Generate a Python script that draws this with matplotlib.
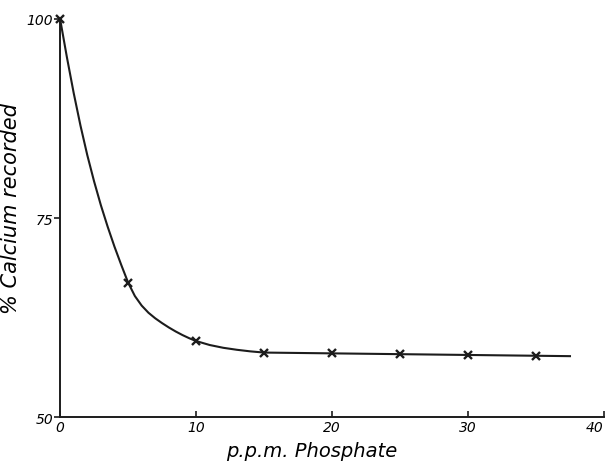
import matplotlib
matplotlib.use("Agg")
import matplotlib.pyplot as plt

# measured points (x marks)
phosphate_ppm = [0, 5, 10, 15, 20, 25, 30, 35]
calcium_pct = [100, 66.9, 59.5, 58.1, 58.0, 57.9, 57.8, 57.7]

# hand-drawn curve
curve_x = [0, 0.5, 1, 1.5, 2, 2.5, 3, 3.5, 4, 4.5, 5, 5.5, 6, 6.5, 7, 7.5, 8, 8.5, 9, 9.5, 10,
           11, 12, 13, 14, 15, 20, 25, 30, 35, 37.5]
curve_y = [100, 95.2, 90.7, 86.6, 82.9, 79.6, 76.6, 73.9, 71.4, 69.1, 66.9, 65.2, 64.0, 63.1, 62.4,
           61.8, 61.25, 60.75, 60.3, 59.9, 59.55, 59.05, 58.7, 58.45, 58.25, 58.1, 58.0, 57.9, 57.8,
           57.7, 57.65]

x_ticks = [0, 10, 20, 30, 40]
y_ticks = [50, 75, 100]

plt.rcParams['font.family'] = ['DejaVu Sans']
ink = '#1c1c1c'

fig = plt.figure(figsize=(6.07, 4.64), dpi=100)
ax = fig.add_axes([0.099, 0.099, 0.896, 0.858])

ax.plot(curve_x, curve_y, color=ink, lw=1.5, clip_on=False)
ax.plot(phosphate_ppm, calcium_pct, ls='none', marker='x', ms=6, mew=1.7, color=ink, clip_on=False)

ax.set_xlim(0, 40)
ax.set_ylim(50, 100)
ax.set_xticks(x_ticks)
ax.set_yticks(y_ticks)
ax.set_xticklabels([str(t) for t in x_ticks], style='italic', fontsize=10)
ax.set_yticklabels([str(t) for t in y_ticks], style='italic', fontsize=10)
ax.tick_params(axis='x', direction='in', length=4, width=1.2, color=ink, pad=2)
ax.tick_params(axis='y', direction='out', length=4, width=1.2, color=ink, pad=1)
# last x label sits left of its tick, as in the original
ax.get_xticklabels()[-1].set_horizontalalignment('right')

for side in ['top', 'right']:
    ax.spines[side].set_visible(False)
for side in ['left', 'bottom']:
    ax.spines[side].set_linewidth(1.4)
    ax.spines[side].set_color(ink)

ax.set_xlabel('p.p.m. Phosphate', style='italic', fontsize=14)
ax.set_ylabel('% Calcium recorded', style='italic', fontsize=15)
ax.xaxis.set_label_coords(0.463, -0.06)
ax.yaxis.set_label_coords(-0.072, 0.525)

fig.savefig('out.png', dpi=100)
